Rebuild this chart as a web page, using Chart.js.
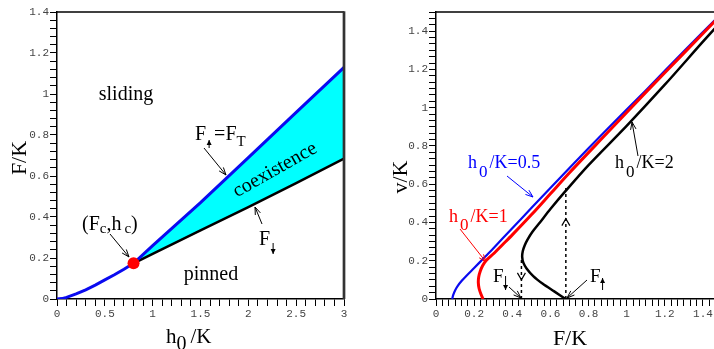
<!DOCTYPE html>
<html>
<head>
<meta charset="utf-8">
<script src="https://cdn.jsdelivr.net/npm/chart.js@4.4.0/dist/chart.umd.min.js"></script>
<style>
  html, body { margin: 0; padding: 0; background: #fff; overflow: hidden; }
  #wrap { position: relative; width: 714px; height: 349px; overflow: hidden; }
  #left { position: absolute; left: 0; top: 0; width: 357px; height: 349px; }
  #right { position: absolute; left: 357px; top: 0; width: 400px; height: 349px; }
</style>
</head>
<body>
<div id="wrap">
  <div id="left"><canvas id="chartFases"></canvas></div>
  <div id="right"><canvas id="chartVelocidad"></canvas></div>
</div>
<script>
// Panel izquierdo: diagrama de fases F/K frente a h0/K
const h0Bajo = [0, 0.05, 0.1, 0.2, 0.3, 0.4, 0.5, 0.6, 0.7, 0.8];
const fBajo = [0, 0.002, 0.008, 0.025, 0.045, 0.068, 0.093, 0.118, 0.145, 0.174];
const h0Alto = [0.8, 1.0, 1.5, 2.0, 2.5, 3.0];
const fSubida = [0.174, 0.26, 0.47, 0.69, 0.91, 1.13];
const fBajada = [0.174, 0.22, 0.335, 0.448, 0.565, 0.685];
const h0Critico = [0.8];
const fCritico = [0.174];

// Panel derecho: v/K frente a F/K
const fAzul = [0.085, 0.09, 0.1, 0.115, 0.135, 0.16, 0.2, 0.25, 0.3, 0.4, 0.5, 0.7, 0.9, 1.1, 1.3, 1.5];
const vAzul = [0, 0.02, 0.045, 0.07, 0.095, 0.122, 0.162, 0.213, 0.264, 0.37, 0.475, 0.685, 0.89, 1.09, 1.295, 1.495];
const fRojo = [0.247, 0.236, 0.226, 0.222, 0.224, 0.232, 0.245, 0.262, 0.3, 0.35, 0.4, 0.5, 0.6, 0.7, 0.9, 1.1, 1.3, 1.5];
const vRojo = [0, 0.025, 0.055, 0.085, 0.115, 0.145, 0.175, 0.2, 0.235, 0.285, 0.335, 0.44, 0.55, 0.66, 0.87, 1.08, 1.285, 1.49];
const fNegro = [0.68, 0.62, 0.56, 0.51, 0.475, 0.458, 0.452, 0.455, 0.465, 0.48, 0.505, 0.545, 0.6, 0.68, 0.8, 1.0, 1.2, 1.4, 1.5];
const vNegro = [0, 0.04, 0.08, 0.12, 0.16, 0.19, 0.22, 0.25, 0.28, 0.31, 0.35, 0.4, 0.47, 0.565, 0.7, 0.905, 1.12, 1.345, 1.455];
const fSaltoAbajo = [0.448, 0.448];
const vSaltoAbajo = [0, 0.205];
const fSaltoArriba = [0.681, 0.681];
const vSaltoArriba = [0, 0.58];

// Etiquetas de los ejes
const ticksXIzq = [0, 0.5, 1, 1.5, 2, 2.5, 3];
const ticksYIzq = [0, 0.2, 0.4, 0.6, 0.8, 1, 1.2, 1.4];
const ticksXDer = [0, 0.2, 0.4, 0.6, 0.8, 1, 1.2, 1.4];
const ticksYDer = [0, 0.2, 0.4, 0.6, 0.8, 1, 1.2, 1.4];

const SERIF = '"Liberation Serif", "Times New Roman", serif';
const MONO = '"Liberation Mono", "Courier New", monospace';

Chart.defaults.animation = false;
Chart.defaults.devicePixelRatio = 1;

const pts = (xs, ys) => xs.map((x, i) => ({ x: x, y: ys[i] }));

function marcas(max, paso) {
  const n = Math.round(max / paso);
  const out = [];
  for (let i = 0; i <= n; i++) out.push({ value: +(i * paso).toFixed(6) });
  return out;
}

function eje(pos, max, paso, mayores, tam) {
  return {
    type: 'linear', position: pos, min: 0, max: max,
    afterBuildTicks: s => { s.ticks = marcas(max, paso); },
    afterFit: s => { if (pos === 'left') s.width = tam; else s.height = tam; },
    grid: { drawOnChartArea: false, drawTicks: true, tickLength: 7, color: '#000', lineWidth: 1 },
    border: { display: true, color: '#000', width: 1.5 },
    ticks: {
      autoSkip: false, maxRotation: 0, minRotation: 0, padding: 1, color: '#444',
      font: { family: MONO, size: 11 },
      callback: v => {
        const m = mayores.find(t => Math.abs(t - v) < 1e-6);
        return m === undefined ? '' : String(m);
      }
    }
  };
}

// Texto con subíndices y flechitas
function texto(ctx, x, y, partes, color) {
  ctx.save();
  ctx.fillStyle = color; ctx.strokeStyle = color;
  ctx.textBaseline = 'alphabetic'; ctx.textAlign = 'left';
  let cx = x;
  for (const p of partes) {
    cx += p.dx || 0;
    if (p.flecha) {
      const ax = cx + 2, y0 = y + p.y0, y1 = y + p.y1;
      ctx.lineWidth = 1;
      ctx.beginPath(); ctx.moveTo(ax, y0); ctx.lineTo(ax, y1); ctx.stroke();
      const d = y1 > y0 ? -1 : 1;
      ctx.beginPath(); ctx.moveTo(ax, y1); ctx.lineTo(ax - 2.5, y1 + d * 5); ctx.lineTo(ax + 2.5, y1 + d * 5); ctx.closePath(); ctx.fill();
      cx += 5;
      continue;
    }
    ctx.font = p.size + 'px ' + SERIF;
    ctx.fillText(p.t, cx, y + (p.dy || 0));
    cx += ctx.measureText(p.t).width;
  }
  ctx.restore();
}

function flecha(ctx, x1, y1, x2, y2, color) {
  ctx.save();
  ctx.strokeStyle = color; ctx.lineWidth = 1;
  ctx.beginPath(); ctx.moveTo(x1, y1); ctx.lineTo(x2, y2); ctx.stroke();
  const a = Math.atan2(y2 - y1, x2 - x1), L = 8;
  ctx.beginPath();
  ctx.moveTo(x2 - L * Math.cos(a - 0.35), y2 - L * Math.sin(a - 0.35));
  ctx.lineTo(x2, y2);
  ctx.lineTo(x2 - L * Math.cos(a + 0.35), y2 - L * Math.sin(a + 0.35));
  ctx.stroke();
  ctx.restore();
}

function centrado(ctx, t, x, y, size, rot) {
  ctx.save();
  ctx.translate(x, y); ctx.rotate(rot || 0);
  ctx.font = size + 'px ' + SERIF; ctx.fillStyle = '#000';
  ctx.textAlign = 'center'; ctx.textBaseline = 'middle';
  ctx.fillText(t, 0, 0);
  ctx.restore();
}

const notasIzq = {
  id: 'notasIzq',
  afterDraw(chart) {
    const ctx = chart.ctx, a = chart.chartArea;
    ctx.save();
    ctx.strokeStyle = '#000'; ctx.lineWidth = 1.5;
    ctx.beginPath(); ctx.moveTo(a.left, a.top); ctx.lineTo(a.right, a.top); ctx.stroke();
    ctx.strokeStyle = '#333'; ctx.lineWidth = 2.7;
    ctx.beginPath(); ctx.moveTo(a.right, a.top - 0.7); ctx.lineTo(a.right, a.bottom); ctx.stroke();
    ctx.restore();

    centrado(ctx, 'sliding', 126, 95, 20);
    centrado(ctx, 'pinned', 211, 275, 20);
    centrado(ctx, 'coexistence', 275, 170, 20, -29.5 * Math.PI / 180);

    texto(ctx, 195, 140, [{ t: 'F', size: 20 }, { flecha: true, y0: 8, y1: 0, dx: 1 },
      { t: '=F', size: 20, dx: 2 }, { t: 'T', size: 15, dy: 6 }], '#000');
    flecha(ctx, 204, 148, 226, 175, '#000');

    texto(ctx, 259, 245, [{ t: 'F', size: 20 }, { flecha: true, y0: -2, y1: 9, dx: 1 }], '#000');
    flecha(ctx, 262, 224, 255, 207, '#000');

    texto(ctx, 82, 230, [{ t: '(', size: 20 }, { t: 'F', size: 20 }, { t: 'c', size: 15, dy: 3 },
      { t: ',', size: 20 }, { t: 'h', size: 20 }, { t: 'c', size: 15, dy: 3, dx: 3 }, { t: ')', size: 20 }], '#000');
    flecha(ctx, 110, 234, 129, 257, '#000');

    // títulos de ejes
    centrado(ctx, 'F/K', 20, 158, 22, -Math.PI / 2);
    texto(ctx, 166, 343, [{ t: 'h', size: 21 }, { t: '0', size: 20, dy: 7 }, { t: '/K', size: 21, dx: 4 }], '#000');
  }
};

const notasDer = {
  id: 'notasDer',
  afterDraw(chart) {
    const ctx = chart.ctx, a = chart.chartArea;
    const xs = chart.scales.x, ys = chart.scales.y;
    const o = 357;
    ctx.save();
    ctx.strokeStyle = '#000'; ctx.lineWidth = 1.5;
    ctx.beginPath(); ctx.moveTo(a.left, a.top); ctx.lineTo(a.right, a.top); ctx.stroke();

    // puntas de las flechas discontinuas
    ctx.lineWidth = 1.2;
    const xa = xs.getPixelForValue(fSaltoAbajo[0]), ya = ys.getPixelForValue(0.1);
    ctx.beginPath(); ctx.moveTo(xa - 4, ya - 7); ctx.lineTo(xa, ya); ctx.lineTo(xa + 4, ya - 7); ctx.stroke();
    const xb = xs.getPixelForValue(fSaltoArriba[0]), yb = ys.getPixelForValue(0.42);
    ctx.beginPath(); ctx.moveTo(xb - 4, yb + 7); ctx.lineTo(xb, yb); ctx.lineTo(xb + 4, yb + 7); ctx.stroke();
    ctx.restore();

    texto(ctx, 468 - o, 168, [{ t: 'h', size: 18 }, { t: '0', size: 17, dy: 9, dx: 2 }, { t: '/K=0.5', size: 18, dx: 2 }], '#0000ff');
    flecha(ctx, 507 - o, 176, 533 - o, 197, '#0000ff');

    texto(ctx, 449 - o, 222, [{ t: 'h', size: 18 }, { t: '0', size: 17, dy: 8, dx: 2 }, { t: '/K=1', size: 18, dx: 2 }], '#ff0000');
    flecha(ctx, 460 - o, 229, 486 - o, 262, '#ff0000');

    texto(ctx, 615 - o, 168, [{ t: 'h', size: 18 }, { t: '0', size: 17, dy: 9, dx: 2 }, { t: '/K=2', size: 18, dx: 2 }], '#000');
    flecha(ctx, 638 - o, 156, 632 - o, 122, '#000');

    texto(ctx, 493 - o, 282, [{ t: 'F', size: 19 }, { flecha: true, y0: -6, y1: 8, dx: 0 }], '#000');
    flecha(ctx, 509 - o, 287, 521 - o, 298, '#000');

    texto(ctx, 590 - o, 282, [{ t: 'F', size: 19 }, { flecha: true, y0: 8, y1: -4, dx: 0 }], '#000');
    flecha(ctx, 587 - o, 280, 567 - o, 298, '#000');

    centrado(ctx, 'v/K', 401 - o, 177, 22, -Math.PI / 2);
    centrado(ctx, 'F/K', 570 - o, 339, 22);
  }
};

const chartFases = new Chart(document.getElementById('chartFases').getContext('2d'), {
  type: 'line',
  data: {
    datasets: [
      { label: 'coexistence', data: pts(h0Alto, fSubida), borderWidth: 0, pointRadius: 0,
        backgroundColor: '#00ffff', fill: 1, order: 3 },
      { label: 'F down', data: pts(h0Alto, fBajada), borderColor: '#000', borderWidth: 2.5,
        pointRadius: 0, fill: false, order: 2 },
      { label: 'F up', data: pts(h0Bajo.concat(h0Alto.slice(1)), fBajo.concat(fSubida.slice(1))),
        borderColor: '#0a0af0', borderWidth: 3, pointRadius: 0, fill: false, order: 1 },
      { label: 'critico', data: pts(h0Critico, fCritico), showLine: false, pointRadius: 6,
        pointBackgroundColor: '#ff0000', pointBorderWidth: 0, order: 0 }
    ]
  },
  options: {
    responsive: true, maintainAspectRatio: false,
    layout: { padding: { top: 12, right: 13, left: 0, bottom: 0 } },
    plugins: { legend: { display: false }, tooltip: { enabled: false } },
    scales: {
      x: eje('bottom', 3, 0.1, ticksXIzq, 50),
      y: eje('left', 1.4, 0.04, ticksYIzq, 57)
    }
  },
  plugins: [notasIzq]
});

const chartVelocidad = new Chart(document.getElementById('chartVelocidad').getContext('2d'), {
  type: 'line',
  data: {
    datasets: [
      { label: 'h0/K=2', data: pts(fNegro, vNegro), borderColor: '#000', borderWidth: 2.5,
        pointRadius: 0, tension: 0.3, fill: false },
      { label: 'h0/K=1', data: pts(fRojo, vRojo), borderColor: '#ff0000', borderWidth: 3,
        pointRadius: 0, tension: 0.3, fill: false },
      { label: 'h0/K=0.5', data: pts(fAzul, vAzul), borderColor: '#0a0af0', borderWidth: 2.2,
        pointRadius: 0, tension: 0.3, fill: false },
      { label: 'salto abajo', data: pts(fSaltoAbajo, vSaltoAbajo), borderColor: '#000', borderWidth: 1.5,
        borderDash: [3, 3], pointRadius: 0, fill: false },
      { label: 'salto arriba', data: pts(fSaltoArriba, vSaltoArriba), borderColor: '#000', borderWidth: 1.5,
        borderDash: [3, 3], pointRadius: 0, fill: false }
    ]
  },
  options: {
    responsive: true, maintainAspectRatio: false,
    layout: { padding: { top: 12, right: 35, left: 0, bottom: 0 } },
    plugins: { legend: { display: false }, tooltip: { enabled: false } },
    scales: {
      x: eje('bottom', 1.5, 0.2 / 6, ticksXDer, 50),
      y: eje('left', 1.5, 0.2 / 6, ticksYDer, 79)
    }
  },
  plugins: [notasDer]
});
</script>
</body>
</html>
